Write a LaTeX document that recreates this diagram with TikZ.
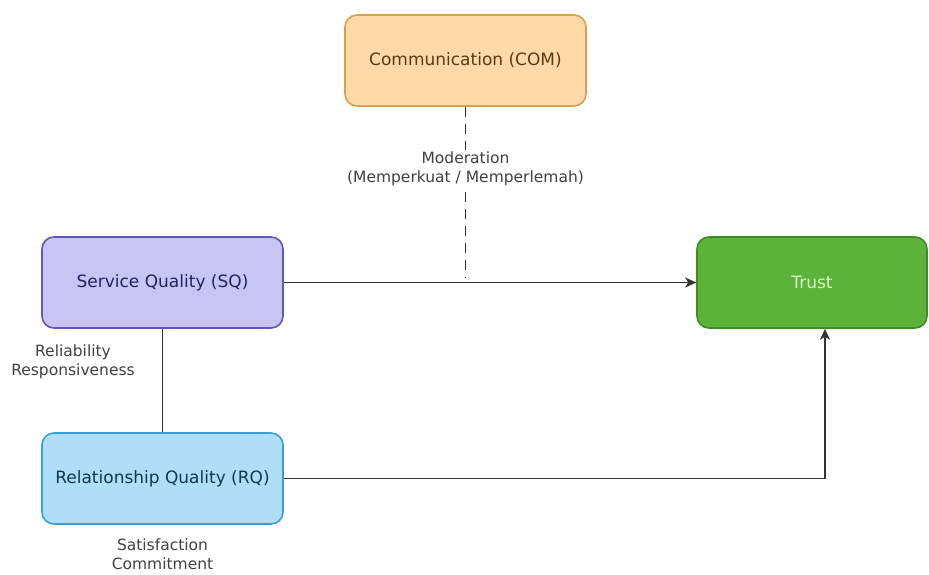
\documentclass[tikz,border=0pt]{standalone}
\usepackage{fontspec}
\setmainfont{DejaVu Sans}
\usetikzlibrary{arrows.meta}
\definecolor{comfill}{HTML}{FFD9A8}
\definecolor{comline}{HTML}{D9A050}
\definecolor{comtext}{HTML}{5A3A12}
\definecolor{sqfill}{HTML}{C8C4F4}
\definecolor{sqline}{HTML}{6256B8}
\definecolor{sqtext}{HTML}{222260}
\definecolor{rqfill}{HTML}{AEDFF7}
\definecolor{rqline}{HTML}{3A9ED0}
\definecolor{rqtext}{HTML}{123850}
\definecolor{trfill}{HTML}{5BB33A}
\definecolor{trline}{HTML}{3F8E28}
\definecolor{trtext}{HTML}{DDF5CC}
\definecolor{wire}{HTML}{333333}

\begin{document}
\begin{tikzpicture}[x=1pt, y=-1pt, >={Stealth[length=11pt, width=10pt, inset=3pt]},
        box/.style={draw, rounded corners=12pt, line width=1.6pt, minimum width=241pt, minimum height=91pt, font=\fontsize{17}{20}\selectfont},
        lbl/.style={align=center, text=black!75, font=\fontsize{15.5}{19}\selectfont},
        wirestyle/.style={wire, line width=1.8pt}]
        \useasboundingbox (0,0) rectangle (929,574);
        \node[box, fill=comfill, draw=comline, text=comtext] (com) at (465.5,60.5) {Communication (COM)};
        \node[box, fill=sqfill, draw=sqline, text=sqtext] (sq) at (162.5,282.5) {Service Quality (SQ)};
        \node[box, fill=rqfill, draw=rqline, text=rqtext] (rq) at (162.5,478.5) {Relationship Quality (RQ)};
        \node[box, fill=trfill, draw=trline, text=trtext, minimum width=230pt] (trust) at (812,282.5) {Trust};
        \node[lbl] (rel) at (73,362) {Reliability\\Responsiveness};
        \node[lbl] (sat) at (162.5,554) {Satisfaction\\Commitment};
        \draw[wirestyle, ->] (sq) -- (trust);
        \draw[wirestyle] (sq) -- (rq);
        \draw[wirestyle, ->] (rq) -| ([xshift=13pt]trust.south);
        \draw[wirestyle, dash pattern=on 10pt off 7pt] (com) -- ([yshift=5pt]com.south |- sq.east)
            node[lbl, pos=0.36, fill=white, inner sep=1pt] (mod) {Moderation\\(Memperkuat / Memperlemah)};
    \end{tikzpicture}
\end{document}
